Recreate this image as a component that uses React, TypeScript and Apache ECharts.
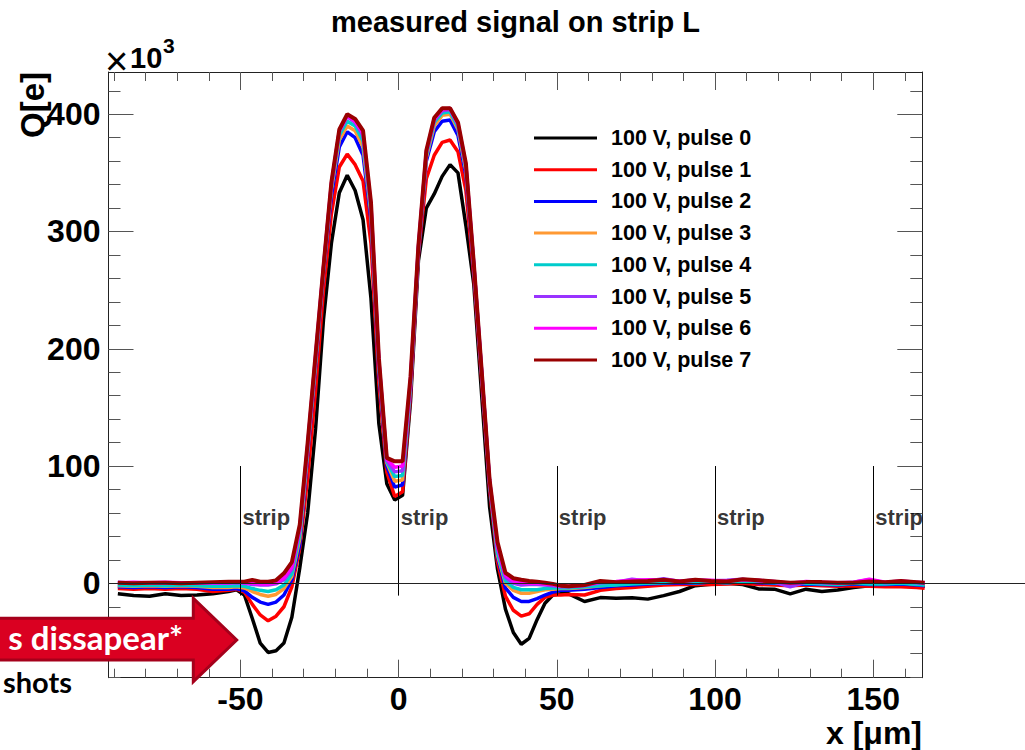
import React, { useEffect, useRef } from "react";
import * as echarts from "echarts";

// ---------- data (charge in units of 10^3 e) ----------
const X = [
  -88.75, -83.75, -78.75, -73.75, -68.75, -63.75, -58.75,
  -53.75, -51.25, -48.75, -46.25, -43.75, -41.25, -38.75, -36.25, -33.75, -31.25, -28.75,
  -26.25, -23.75, -21.25, -18.75, -16.25, -13.75, -11.25, -8.75, -6.25, -3.75, -1.25,
  1.25, 3.75, 6.25, 8.75, 11.25, 13.75, 16.25, 18.75, 21.25, 23.75, 26.25, 28.75,
  31.25, 33.75, 36.25, 38.75, 41.25, 43.75, 46.25, 48.75, 51.25, 53.75,
  58.75, 63.75, 68.75, 73.75, 78.75, 83.75, 88.75, 93.75, 98.75, 103.75, 108.75, 113.75,
  118.75, 123.75, 128.75, 133.75, 138.75, 143.75, 148.75, 153.75, 158.75, 163.75, 166.25,
];

const PULSE0 = [
  -9, -10.5, -11, -9, -10.5, -10, -9,
  -7, -5.5, -10, -30, -51, -59, -57.5, -51, -29, 13, 60, 132, 225, 290, 333, 348, 335, 310, 243, 136, 85, 71,
  75, 155, 275, 320, 332, 347, 357, 350, 305, 255, 160, 65, 12, -22, -42, -52, -47, -31, -17, -10, -9, -9,
  -15.5, -12.2, -12.8, -12.3, -13.5, -10.5, -7, -2, -0.8, 0, -1, -4.8, -5, -9, -5, -7, -5.8, -3.5, -2, -1.5, -1, -2, -2.5,
];
const PULSE1 = [
  -4.5, -5, -4.5, -5, -4.5, -5, -7,
  -6, -5, -7.5, -18, -27, -32, -28, -20, -3, 30, 90, 165, 250, 315, 355, 366, 357, 343, 290, 170, 95, 74,
  78, 160, 280, 345, 365, 376, 378, 368, 335, 262, 172, 80, 18, -11, -23, -28, -26, -18, -12, -10, -10, -9.5,
  -10, -6, -4.5, -3.5, -2.5, -1.5, -1, -1, -1, -0.5, 0, -1, -1.5, -2, -1.5, -2, -2.5, -2, -2.5, -3, -3, -3.5, -4.3,
];
const PULSE2 = [
  -3, -3.5, -3, -3.5, -3, -3.5, -5,
  -5, -4.5, -6.5, -12, -16, -18, -16, -10, 3, 33, 110, 185, 265, 330, 372, 385, 380, 365, 310, 180, 100, 82,
  84, 165, 282, 360, 385, 394, 395, 382, 348, 268, 177, 84, 22, -4, -12, -15.5, -15.5, -13, -10, -7.5, -6, -6,
  -5, -3.5, -2, -1.5, -0.5, 0, 0.5, 0, 1, 0.5, 1.5, 0.5, 0, -1, -0.5, -1, -1.5, -0.5, -1, -1, -0.5, -1.5, -2,
];
const PULSE3 = [
  -2, -2.5, -2, -2.5, -2, -2.5, -3.5,
  -3.5, -3, -4, -7, -9.5, -11, -9.5, -4.5, 6, 38, 113, 188, 267, 336, 378, 390, 386, 372, 315, 185, 103, 87,
  88, 168, 284, 363, 390, 399, 400, 387, 352, 270, 178, 85, 24, 0, -6, -8.5, -8.5, -7, -5.5, -5, -4.5, -4.5,
  -3.5, -2, -1, 0, 0.5, 1, 1.5, 1, 1.5, 1, 2.5, 1.5, 1, 0, 0.5, 0, -0.5, 0.5, 0, 0, 0.5, -0.5, -1,
];
const PULSE4 = [
  -1.5, -2, -1.5, -2, -1.5, -2, -2.5,
  -2.5, -2, -2.5, -4.5, -6, -7, -5.5, -1.5, 8, 42, 115, 190, 268, 338, 382, 394, 390, 377, 318, 187, 104, 91,
  92, 170, 285, 365, 393, 401, 402, 389, 354, 271, 179, 86, 26, 2, -3.5, -5.5, -5.5, -5.5, -4.5, -4, -4, -4,
  -3, -2, -1.5, -0.5, 0, 0.5, 1, 0.5, 1, 0.5, 1.5, 1, 0.5, -0.5, 0, -0.5, -1, 0, -0.5, -0.5, 0, -1, -1.5,
];
const PULSE5 = [
  1, 0, 0.5, 0, 0.5, 0, 0,
  0, 0.5, 0, -1, -1.5, -1.5, -0.5, 3, 12, 46, 117, 193, 269, 340, 385, 398, 393, 382, 321, 189, 105, 95,
  96, 172, 286, 367, 395, 403, 404, 391, 356, 272, 180, 87, 30, 5, 0, -1.5, -1, -1, -1.5, -2, -3, -3,
  -2, 0.5, 1, 3.5, 2, 4, 1.5, 3, 2, 2.5, 3.5, 2, 1, -3, 1, 0.5, 0, 1, 3, 0.5, 1.5, 0.5, 0,
];
const PULSE6 = [
  0.5, 1, 0.5, 1, 0.5, 0.5, 0.5,
  0.5, 1, 0.5, 0, -0.5, -0.5, 0.5, 4.5, 14, 48, 118, 194, 270, 341, 386, 399, 394, 384, 323, 190, 106, 99,
  100, 174, 287, 368, 396, 404, 405, 392, 357, 272, 180, 87, 32, 7, 2, 0.5, 0, 0, -0.5, -1, -2.5, -2.5,
  -1.5, 1, 1.5, 2.5, 3, 3, 2, 2.5, 2.5, 2, 3, 2.5, 1.5, 0, 1.5, 1, 0.5, 1, 3.5, 1, 2, 1, 0.5,
];
const PULSE7 = [
  0.5, 0, 0.5, 0.5, 0, 0.5, 1,
  1.4, 1.4, 1.4, 2.8, 1.4, 1.4, 2.5, 8.5, 18, 50, 120, 195, 270, 342, 387, 400, 396, 386, 325, 192, 107, 104,
  104, 176, 288, 369, 397, 405, 405, 393, 358, 273, 181, 88, 35, 9, 4.3, 3, 2, 1.4, 0.5, -0.5, -2, -2.5,
  -1.5, 2, 1, 1.5, 2, 3, 1.5, 3, 2, 1.5, 3.5, 2.5, 1.5, 0.5, 1, 1, 0.5, 0.5, 1.5, 1, 2, 1, 0.5,
];

const SERIES_VALUES = [PULSE0, PULSE1, PULSE2, PULSE3, PULSE4, PULSE5, PULSE6, PULSE7];
const SERIES_NAMES = [
  "100 V, pulse 0", "100 V, pulse 1", "100 V, pulse 2", "100 V, pulse 3",
  "100 V, pulse 4", "100 V, pulse 5", "100 V, pulse 6", "100 V, pulse 7",
];
const SERIES_COLORS = ["#000000", "#ff0000", "#0000ff", "#ff9933", "#00cccc", "#9933ff", "#ff00ff", "#990000"];

const X_MIN = -91.7;
const X_MAX = 165.5;
const Y_MIN = -80.5;
const Y_MAX = 436;
const X_MAJOR = [-50, 0, 50, 100, 150];
const X_MINOR = [-90, -80, -70, -60, -50, -40, -30, -20, -10, 0, 10, 20, 30, 40, 50, 60, 70, 80, 90, 100, 110, 120, 130, 140, 150, 160];
const Y_MAJOR = [0, 100, 200, 300, 400];
const Y_MINOR = [-80, -60, -40, -20, 0, 20, 40, 60, 80, 100, 120, 140, 160, 180, 200, 220, 240, 260, 280, 300, 320, 340, 360, 380, 400, 420];

const STRIP_X = [-50, 0, 50, 100, 150];
const STRIP_BOTTOM = -10.5;
const STRIP_TOP = 100;
const STRIP_LABEL_Y = 56;

const FONT = "Liberation Sans";

function xAxisDef(position: string, ticks: number[], len: number, withLine: boolean, labels: boolean) {
  return {
    type: "value",
    position,
    min: X_MIN,
    max: X_MAX,
    splitLine: { show: false },
    axisLine: { show: withLine, onZero: false, lineStyle: { color: "#222", width: 1 } },
    axisTick: { show: true, inside: true, length: len, customValues: ticks, lineStyle: { color: "#555", width: 1 } },
    axisLabel: labels
      ? { show: true, customValues: ticks, margin: 6, lineHeight: 30, fontSize: 32, fontWeight: "bold", fontFamily: FONT, color: "#000" }
      : { show: false },
  };
}
function yAxisDef(position: string, ticks: number[], len: number, withLine: boolean, labels: boolean) {
  return {
    type: "value",
    position,
    min: Y_MIN,
    max: Y_MAX,
    splitLine: { show: false },
    axisLine: { show: withLine, onZero: false, lineStyle: { color: "#222", width: 1 } },
    axisTick: { show: true, inside: true, length: len, customValues: ticks, lineStyle: { color: "#555", width: 1 } },
    axisLabel: labels
      ? { show: true, customValues: ticks, margin: 8, padding: [9, 0, 0, 0], fontSize: 32, fontWeight: "bold", fontFamily: FONT, color: "#000" }
      : { show: false },
  };
}

function buildOption() {
  const lines = SERIES_VALUES.map((vals, i) => ({
    type: "line",
    name: SERIES_NAMES[i],
    color: SERIES_COLORS[i],
    data: X.map((x, j) => [x, vals[j]]),
    showSymbol: false,
    symbol: "none",
    clip: true,
    z: 2,
    lineStyle: { width: i === 7 ? 4 : 3.5, color: SERIES_COLORS[i] },
  }));
  const strips = {
    type: "scatter",
    name: "strips",
    data: STRIP_X.map((x) => [x, STRIP_LABEL_Y]),
    symbolSize: 0,
    silent: true,
    z: 10,
    label: {
      show: true,
      formatter: "strip",
      position: "right",
      distance: 2,
      fontSize: 22,
      fontWeight: "bold",
      fontFamily: FONT,
      color: "#000",
    },
    markLine: {
      silent: true,
      symbol: ["none", "none"],
      label: { show: false },
      lineStyle: { color: "#000", width: 1, type: "solid" },
      data: STRIP_X.map((x) => [{ coord: [x, STRIP_BOTTOM] }, { coord: [x, STRIP_TOP] }]),
    },
  };
  return {
    animation: false,
    grid: { left: 108.5, right: 102.7, top: 72, bottom: 72.3, containLabel: false, outerBoundsMode: "none" },
    xAxis: [
      xAxisDef("bottom", X_MAJOR, 18, true, true),
      xAxisDef("bottom", X_MINOR, 9, false, false),
      xAxisDef("top", X_MAJOR, 18, true, false),
      xAxisDef("top", X_MINOR, 9, false, false),
    ],
    yAxis: [
      yAxisDef("left", Y_MAJOR, 25, true, true),
      yAxisDef("left", Y_MINOR, 12, false, false),
      yAxisDef("right", Y_MAJOR, 25, true, false),
      yAxisDef("right", Y_MINOR, 12, false, false),
    ],
    legend: {
      data: SERIES_NAMES,
      orient: "vertical",
      left: 534,
      top: 126,
      itemWidth: 63,
      itemHeight: 3,
      itemGap: 7.7,
      icon: "rect",
      selectedMode: false,
      padding: 0,
      textStyle: { fontFamily: FONT, fontWeight: "bold", fontSize: 21.5, lineHeight: 24, color: "#000", padding: [0, 0, 0, 9] },
    },
    series: [...lines, strips],
  };
}

function buildGraphic(zero: number[]) {
  const y0 = Math.round(zero[1]) + 0.5;
  const txt = (text: string, x: number, y: number, size: number, weight: string, align: string, extra: any = {}) => ({
    type: "text",
    x,
    y,
    z: 100,
    silent: true,
    ...extra,
    style: {
      text,
      fontSize: size,
      fontWeight: weight,
      fontFamily: extra.fontFamily || FONT,
      fill: extra.fill || "#000",
      align,
      verticalAlign: "middle",
    },
  });
  return [
    { type: "line", z: 100, silent: true, shape: { x1: zero[0], y1: y0, x2: 1025, y2: y0 }, style: { stroke: "#222", lineWidth: 1 } },
    txt("measured signal on strip L", 515.5, 21.5, 29, "bold", "center"),
    txt("×", 105, 60.5, 40, "normal", "left"),
    txt("10", 130, 58.3, 29, "bold", "left"),
    txt("3", 163, 45.7, 21, "bold", "left"),
    txt("Q[e]", 32.6, 105, 33, "bold", "center", { rotation: Math.PI / 2 }),
    txt("x [μm]", 922, 733, 32, "bold", "right"),
    {
      type: "polygon",
      z: 200,
      silent: true,
      shape: { points: [[-6, 618.3], [193.3, 618.3], [193.3, 598.3], [236.7, 640], [193.3, 681.7], [193.3, 660], [-6, 660]] },
      style: { fill: "#da0021", stroke: "#a5001b", lineWidth: 3 },
    },
    { ...txt("s dissapear*", 183, 637, 33, "bold", "right", { fontFamily: "Lato", fill: "#ffffff" }), z: 201 },
    { ...txt("shots", 3, 681, 29, "bold", "left", { fontFamily: "Lato" }), z: 201 },
  ];
}

export default function App() {
  const ref = useRef<HTMLDivElement>(null);
  useEffect(() => {
    if (!ref.current) return;
    const chart = echarts.init(ref.current, null, { renderer: "svg" });
    chart.setOption(buildOption() as any);
    const zero = chart.convertToPixel({ xAxisIndex: 0, yAxisIndex: 0 }, [X_MIN, 0]) as number[];
    chart.setOption({ graphic: buildGraphic(zero) } as any);
    return () => chart.dispose();
  }, []);
  return (
    <div
      ref={ref}
      style={{ position: "absolute", left: 0, top: 0, width: 1025, height: 750, background: "#ffffff" }}
    />
  );
}
